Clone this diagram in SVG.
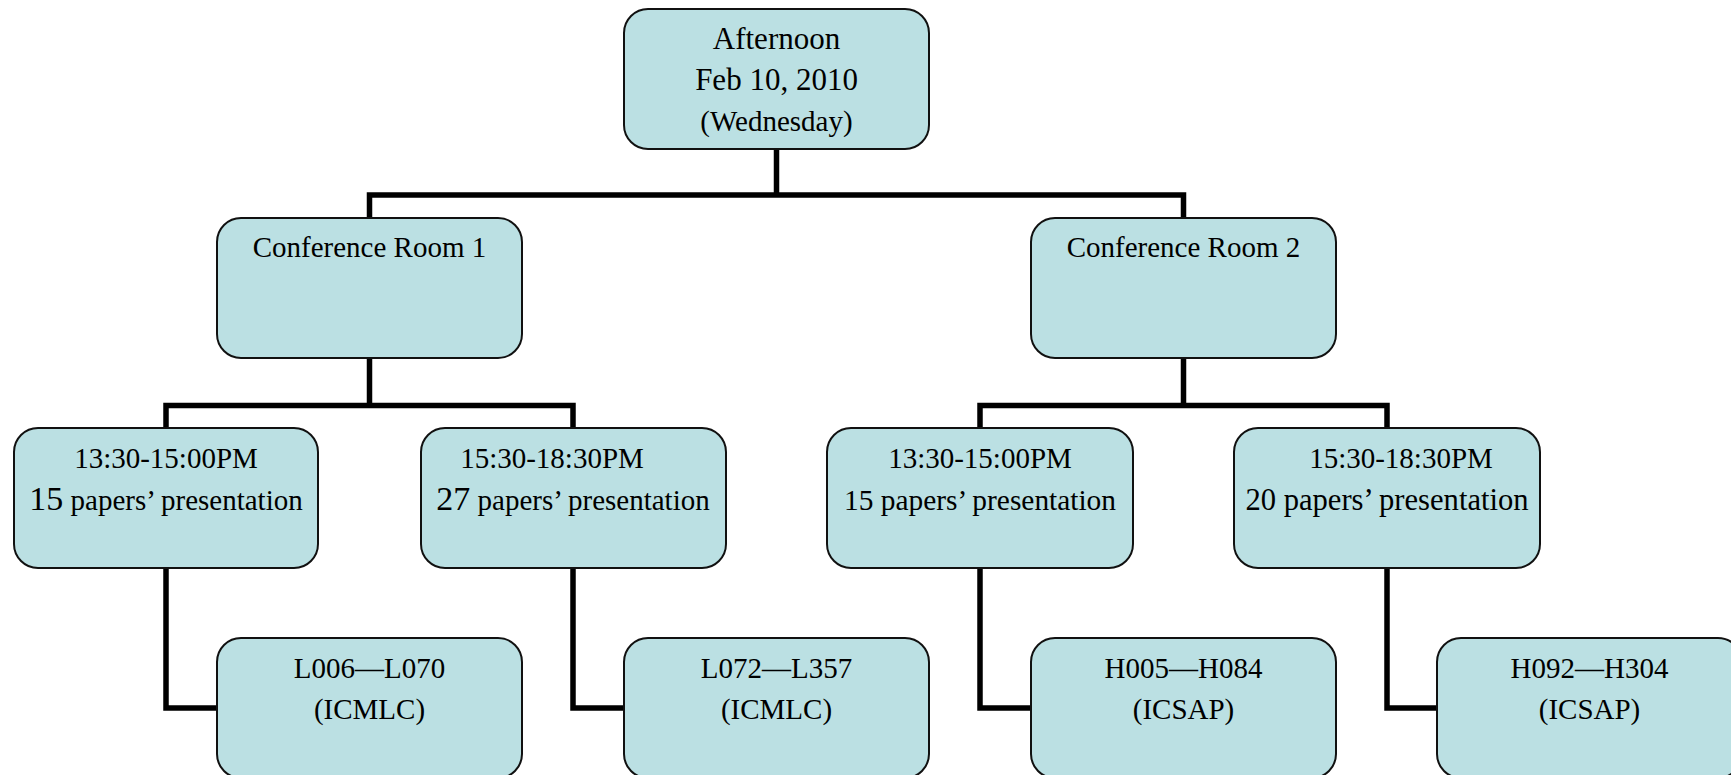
<svg xmlns="http://www.w3.org/2000/svg" width="1731" height="775" viewBox="0 0 1731 775">
<style>
.box{fill:#BBE0E3;stroke:#111;stroke-width:2}
.t{font-family:"Liberation Serif","Times New Roman",serif;font-size:29px;fill:#000;text-anchor:middle}
.c{fill:none;stroke:#000;stroke-width:5.5;stroke-linejoin:miter;stroke-linecap:butt}
</style>
<rect width="1731" height="775" fill="#fff"/>
<g id="connectors">
<path class="c" d="M776.5,149 V195"/>
<path class="c" d="M369.5,218 V195 H1183.5 V218"/>
<path class="c" d="M369.5,358 V405.5"/>
<path class="c" d="M166,428 V405.5 H573 V428"/>
<path class="c" d="M1183.5,358 V405.5"/>
<path class="c" d="M980,428 V405.5 H1387 V428"/>
<path class="c" d="M166,568 V708 H217"/>
<path class="c" d="M573,568 V708 H624"/>
<path class="c" d="M980,568 V708 H1031"/>
<path class="c" d="M1387,568 V708 H1437"/>
</g>
<g id="root">
<rect class="box" x="624" y="9" width="305" height="140" rx="24"/>
<text class="t" x="776.5" y="49" style="font-size:31px">Afternoon</text>
<text class="t" x="776.5" y="90" style="font-size:31px">Feb 10, 2010</text>
<text class="t" x="776.5" y="131">(Wednesday)</text>
</g>
<g id="room1">
<rect class="box" x="217" y="218" width="305" height="140" rx="24"/>
<text class="t" x="369.5" y="257">Conference Room 1</text>
</g>
<g id="room2">
<rect class="box" x="1031" y="218" width="305" height="140" rx="24"/>
<text class="t" x="1183.5" y="257">Conference Room 2</text>
</g>
<g id="r1s1">
<rect class="box" x="14" y="428" width="304" height="140" rx="24"/>
<text class="t" x="166" y="468">13:30-15:00PM</text>
<text class="t" x="166" y="510"><tspan style="font-size:34px">15</tspan> papers’ presentation</text>
</g>
<g id="r1s2">
<rect class="box" x="421" y="428" width="305" height="140" rx="24"/>
<text class="t" x="552" y="468">15:30-18:30PM</text>
<text class="t" x="573" y="510"><tspan style="font-size:34px">27</tspan> papers’ presentation</text>
</g>
<g id="r2s1">
<rect class="box" x="827" y="428" width="306" height="140" rx="24"/>
<text class="t" x="980" y="468">13:30-15:00PM</text>
<text class="t" x="980" y="510" style="font-size:29.4px">15 papers’ presentation</text>
</g>
<g id="r2s2">
<rect class="box" x="1234" y="428" width="306" height="140" rx="24"/>
<text class="t" x="1401" y="468">15:30-18:30PM</text>
<text class="t" x="1387" y="510" style="font-size:30.6px">20 papers’ presentation</text>
</g>
<g id="p1">
<rect class="box" x="217" y="638" width="305" height="140" rx="24"/>
<text class="t" x="369.5" y="678">L006—L070</text>
<text class="t" x="369.5" y="719">(ICMLC)</text>
</g>
<g id="p2">
<rect class="box" x="624" y="638" width="305" height="140" rx="24"/>
<text class="t" x="776.5" y="678">L072—L357</text>
<text class="t" x="776.5" y="719">(ICMLC)</text>
</g>
<g id="p3">
<rect class="box" x="1031" y="638" width="305" height="140" rx="24"/>
<text class="t" x="1183.5" y="678">H005—H084</text>
<text class="t" x="1183.5" y="719">(ICSAP)</text>
</g>
<g id="p4">
<rect class="box" x="1437" y="638" width="305" height="140" rx="24"/>
<text class="t" x="1589.5" y="678">H092—H304</text>
<text class="t" x="1589.5" y="719">(ICSAP)</text>
</g>
</svg>
